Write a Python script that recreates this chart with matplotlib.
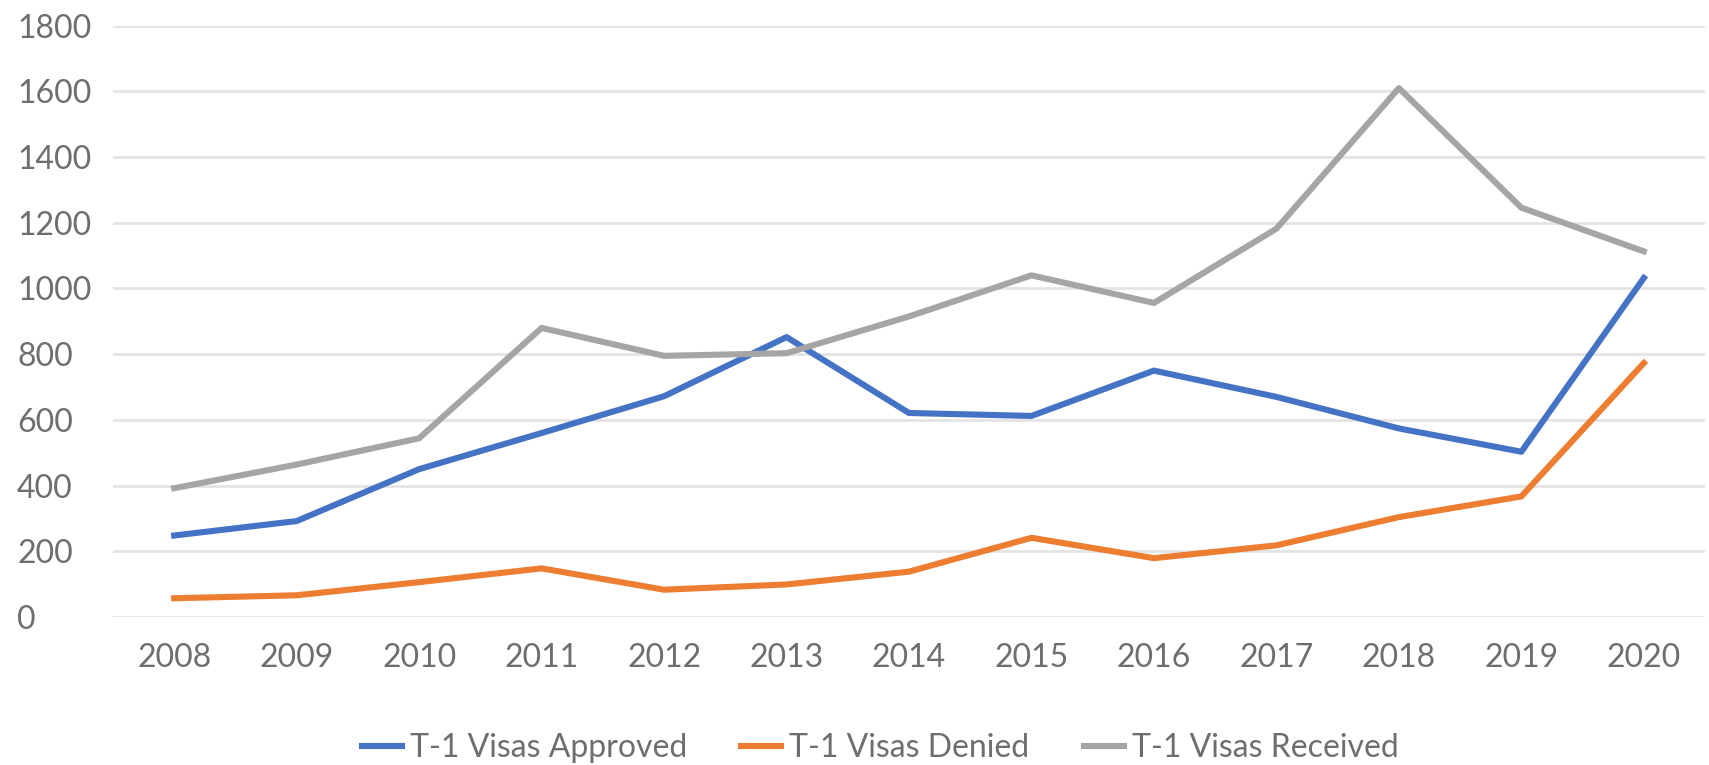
import matplotlib
matplotlib.use("Agg")
import matplotlib.pyplot as plt

years = ["2008", "2009", "2010", "2011", "2012", "2013", "2014",
         "2015", "2016", "2017", "2018", "2019", "2020"]
approved = [248, 292, 450, 560, 672, 852, 621, 612, 750, 670, 574, 503, 1032]
denied = [57, 66, 106, 148, 83, 99, 138, 241, 179, 218, 304, 367, 773]
received = [392, 464, 544, 880, 795, 803, 915, 1040, 956, 1182, 1610, 1246, 1113]
y_ticks = [0, 200, 400, 600, 800, 1000, 1200, 1400, 1600, 1800]

plt.rcParams['font.family'] = ['Lato', 'DejaVu Sans']
label_color = '#6e6e6e'

fig = plt.figure(figsize=(17.09, 7.65), dpi=100)
ax = fig.add_axes([0.0661, 0.1935, 0.9316, 0.7729])

x = list(range(len(years)))
ax.plot(x, approved, color='#4472C4', lw=4.4, label='T-1 Visas Approved', solid_joinstyle='round')
ax.plot(x, denied, color='#ED7D31', lw=4.4, label='T-1 Visas Denied', solid_joinstyle='round')
ax.plot(x, received, color='#A5A5A5', lw=4.4, label='T-1 Visas Received', solid_joinstyle='round')

ax.set_xlim(-0.5, len(years) - 0.5)
ax.set_ylim(0, 1800)
ax.set_yticks(y_ticks)
ax.set_xticks(x)
ax.set_xticklabels(years)

ax.grid(axis='y', color='#e4e4e4', lw=2)
ax.set_axisbelow(True)
for s in ax.spines.values():
    s.set_visible(False)

ax.tick_params(axis='both', length=0, labelsize=23, labelcolor=label_color)
ax.tick_params(axis='x', pad=19)
ax.tick_params(axis='y', pad=69)
for t in ax.get_yticklabels():
    t.set_horizontalalignment('left')

leg = fig.legend(loc='center', bbox_to_anchor=(0.515, 0.022), ncol=3, frameon=False,
                 fontsize=23, handlelength=1.25, handletextpad=0.25, columnspacing=1.7)
for t in leg.get_texts():
    t.set_color(label_color)

fig.savefig('out.png', dpi=100)
